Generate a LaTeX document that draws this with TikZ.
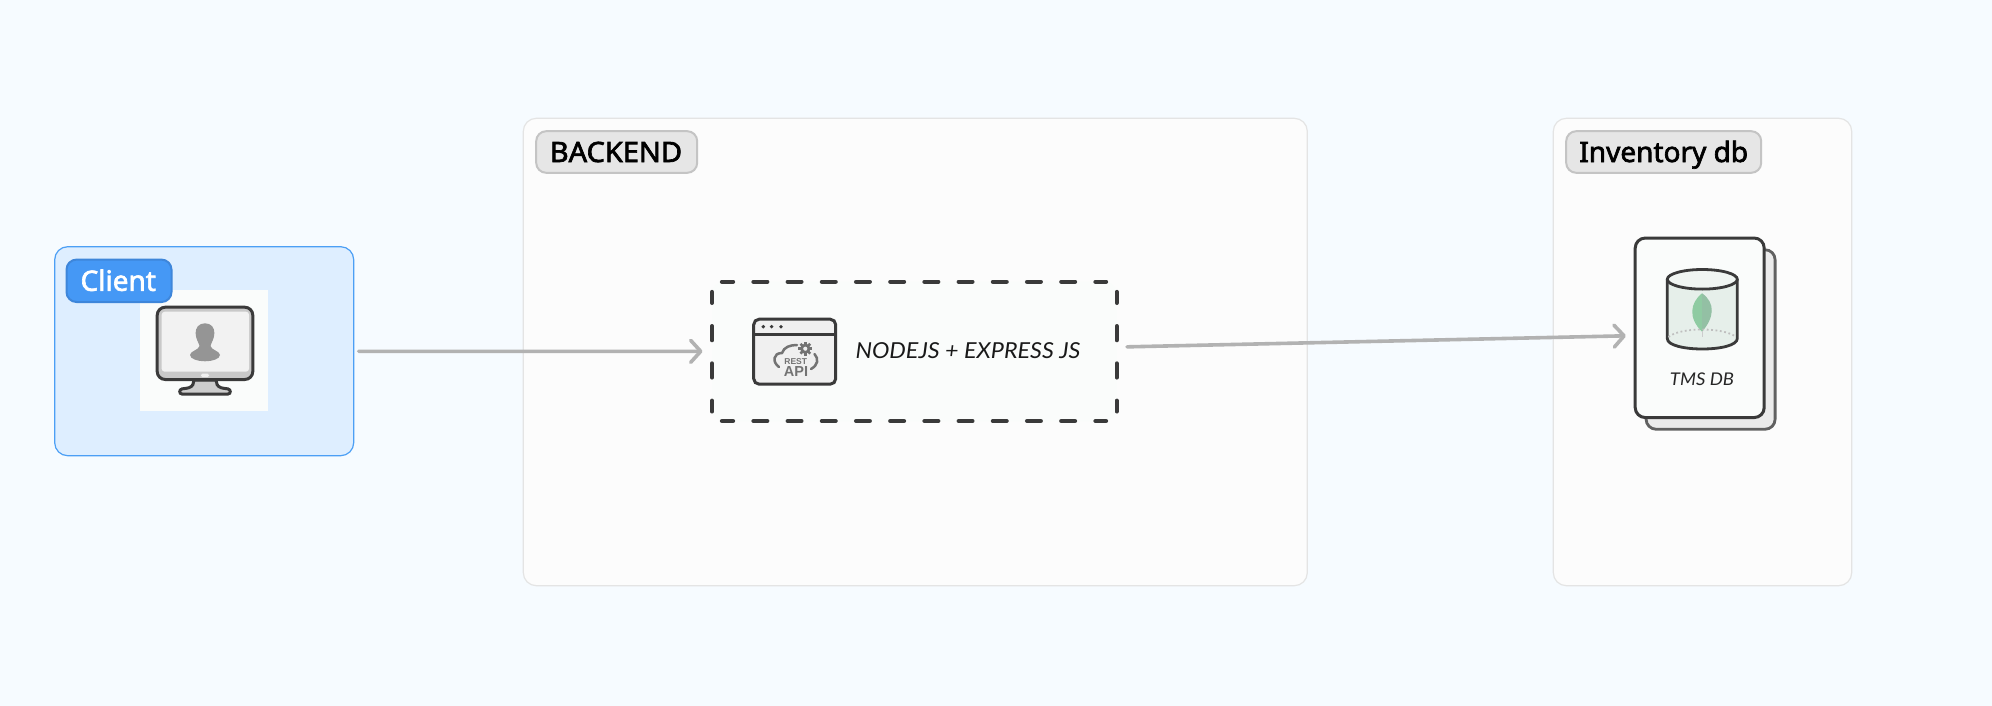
\documentclass[tikz,border=0pt]{standalone}
\usepackage{fontspec}
\usetikzlibrary{arrows.meta}
\setmainfont{Noto Sans}
\newfontfamily\labfont{Noto Sans}
\newcommand{\heavier}[1]{\special{pdf:code 2 Tr 0.65 w}#1\special{pdf:code 0 Tr}}
\newfontfamily\itfont{Lato Italic}
\newfontfamily\boldfont{Liberation Sans Bold}
\definecolor{bgc}{HTML}{F6FBFF}
\definecolor{grpfill}{HTML}{FCFCFC}
\definecolor{grpline}{HTML}{E4E4E4}
\definecolor{clfill}{HTML}{DEEEFF}
\definecolor{clline}{HTML}{4C9FF5}
\definecolor{pillfill}{HTML}{E6E6E6}
\definecolor{pillline}{HTML}{C4C4C4}
\definecolor{bluepill}{HTML}{4598F5}
\definecolor{bluepilll}{HTML}{3E86DA}
\definecolor{arrowc}{HTML}{B2B2B2}
\definecolor{ink}{HTML}{3A3A3A}
\definecolor{softw}{HTML}{FAFCFB}
\definecolor{greyp}{HTML}{959595}
\definecolor{cylf}{HTML}{E6EFEA}
\definecolor{leafa}{HTML}{8FCBA2}
\definecolor{leafb}{HTML}{93C0A4}
\tikzset{
  grp/.style={draw=grpline,fill=grpfill,line width=1.2pt,rounded corners=13pt,inner sep=0pt,outer sep=0pt},
  pill/.style={draw=pillline,fill=pillfill,line width=2pt,rounded corners=10pt,inner sep=0pt,outer sep=0pt,text=black,
    text height=20pt,text depth=0pt,font=\labfont\fontsize{28}{28}\selectfont},
  conn/.style={draw=arrowc,line width=3.6pt,line cap=round,line join=round,-{Straight Barb[length=10pt,width=22pt,round,line width=3.6pt]}},
  dashside/.style={draw=ink,line width=4.3pt,line cap=round},
}
\begin{document}
\begin{tikzpicture}[x=1pt,y=-1pt]
\useasboundingbox (0,0) rectangle (1992,706);
\fill[bgc] (0,0) rectangle (1992,706);

% groups
\node[grp,draw=clline,fill=clfill,minimum width=299pt,minimum height=209pt] (client) at (204.2,351.2) {};
\node[grp,minimum width=784pt,minimum height=467.4pt] (backend) at (915.3,352) {};
\node[grp,minimum width=298.4pt,minimum height=467.4pt] (inv) at (1702.5,352) {};

% client image
\node[fill=softw,inner sep=0pt,minimum width=128.3pt,minimum height=121pt] (clientimg) at (204.2,350.5) {};
\draw[ink,line width=3pt,fill=black!20,rounded corners=2pt]
  (193.5,380) .. controls (193.5,386) and (190,388) .. (184,388.5)
  .. controls (179,389.5) and (179,394) .. (184,394) -- (226,394)
  .. controls (231,394) and (231,389.5) .. (226,388.5)
  .. controls (220,388) and (216.5,386) .. (216.5,380) -- cycle;
\draw[ink,line width=3pt,fill=black!21,rounded corners=8pt] (157.2,307.2) rectangle (252.8,379.5);
\fill[black!5,rounded corners=3pt] (161.7,311.7) rectangle (249,371.7);
\fill[black!6,rounded corners=1.5pt] (201,373.6) rectangle (209,377);
\fill[greyp] (205,323.3) .. controls (198.5,323.3) and (195.6,328) .. (195.6,333)
  .. controls (195.6,339) and (199,343) .. (199.5,346)
  .. controls (199,350) and (190,351) .. (190,355)
  .. controls (190,359) and (198,361.3) .. (205,361.3)
  .. controls (212,361.3) and (220,359) .. (220,355)
  .. controls (220,351) and (211,350) .. (210.5,346)
  .. controls (211,343) and (214.4,339) .. (214.4,333)
  .. controls (214.4,328) and (211.5,323.3) .. (205,323.3) -- cycle;

% labels
\node[pill,draw=bluepilll,fill=bluepill,text=white,minimum width=105pt,minimum height=42.4pt] (clientlab) at (119,280.8) {\kern-1.5pt\heavier{Client}};
\node[pill,minimum width=161pt,minimum height=41.6pt] (backlab) at (616.7,152) {\kern-1.5pt\scalebox{1.035}[1]{\heavier{BACKEND}}};
\node[pill,minimum width=195pt,minimum height=41.6pt] (invlab) at (1663.7,152) {\heavier{Inventory db}};

% dashed box
\node[fill=softw,inner sep=0pt,outer sep=0pt,rounded corners=12pt,minimum width=404.7pt,minimum height=139.3pt] (api) at (914.35,351.35) {};
\draw[dashside,dash pattern=on 13.7pt off 20.5pt,dash phase=2.7pt] (722,281.7) -- (1106,281.7);
\draw[dashside,dash pattern=on 13.7pt off 20.5pt,dash phase=2.7pt] (722,421) -- (1106,421);
\draw[dashside,dash pattern=on 14pt off 23.3pt,dash phase=3.15pt] (712,292) -- (712,411.4);
\draw[dashside,dash pattern=on 14pt off 23.3pt,dash phase=3.15pt] (1116.7,292) -- (1116.7,411.4);

% rest icon
\node[draw=ink,fill=black!6,line width=3pt,rounded corners=5.5pt,inner sep=0pt,outer sep=0pt,minimum width=82pt,minimum height=65pt] (win) at (794.7,351.7) {};
\draw[ink,line width=2.6pt] (win.west |- 0,334.3) -- (win.east |- 0,334.3);
\foreach \dx in {763.3,771.6,781}{\fill[ink] (\dx,326.7) circle (1.9pt);}
\draw[black!55,line width=2.5pt,line cap=round]
  (779,367) .. controls (772,362) and (773,353) .. (782,353)
  .. controls (784,347) and (790,345) .. (797,345);
\draw[black!55,line width=2.5pt,line cap=round]
  (814.5,354) .. controls (819,359) and (818,365) .. (811,369);
\fill[black!55,even odd rule] (805.3,348.7) circle (5.2pt) circle (2.2pt);
\foreach \a in {0,45,...,315}{\fill[black!55,rotate around={\a:(805.3,348.7)}] (804,341.8) rectangle (806.6,344.5);}
\node[inner sep=0pt,text=black!55,font=\boldfont\fontsize{8.5}{8.5}\selectfont] (resttxt) at (795.7,361.7) {REST};
\node[inner sep=0pt,text=black!55,font=\boldfont\fontsize{14.5}{14.5}\selectfont] (apitxt) at (796,372) {API};
\node[anchor=base,inner sep=0pt,text=black!90,font=\itfont\fontsize{22}{22}\selectfont] (apilab) at (968,358.7) {\scalebox{1.06}[1]{NODEJS + EXPRESS JS}};

% db cards
\node[draw=black!62,fill=black!8,line width=2.8pt,rounded corners=10pt,inner sep=0pt,outer sep=0pt,minimum width=129pt,minimum height=179.5pt] (dbback) at (1710.6,339.5) {};
\node[draw=ink,fill=softw,line width=3pt,rounded corners=10pt,inner sep=0pt,outer sep=0pt,minimum width=129pt,minimum height=179.5pt] (db) at (1699.7,327.8) {};
% cylinder
\draw[ink,line width=2.8pt,fill=cylf] (1667.3,279.3) -- (1667.3,338.5)
  .. controls (1667.3,352.5) and (1737.3,352.5) .. (1737.3,338.5) -- (1737.3,279.3);
\fill[leafa] (1702,293.3) .. controls (1690,303) and (1688,318) .. (1702,331.7) -- cycle;
\fill[leafb] (1702,293.3) .. controls (1716,303) and (1714,318) .. (1702,331.7) -- cycle;
\draw[white!80!black,line width=1pt] (1702,331) -- (1702,337);
\draw[black!25,line width=1.8pt,dash pattern=on 1.8pt off 2.6pt] (1668.5,337) .. controls (1680,327) and (1724,327) .. (1736,337);
\draw[ink,line width=2.8pt,fill=cylf!60!white] (1702.3,279.3) ellipse (35pt and 9.8pt);
\node[anchor=base,inner sep=0pt,text=black!85,font=\itfont\fontsize{17.5}{17.5}\selectfont] (dblab) at (1702,385.3) {\scalebox{1.06}[1]{TMS DB}};

% connectors
\coordinate (a1s) at ([shift={(5,0.1)}]client.east);
\coordinate (a1e) at ([shift={(-9.5,0)}]api.west);
\coordinate (a2s) at ([shift={(10.3,-4.5)}]api.east);
\coordinate (a2e) at ([shift={(-9.3,8)}]db.west);
\draw[conn] (a1s) -- (a1e);
\draw[conn] (a2s) -- (a2e);
\end{tikzpicture}
\end{document}
